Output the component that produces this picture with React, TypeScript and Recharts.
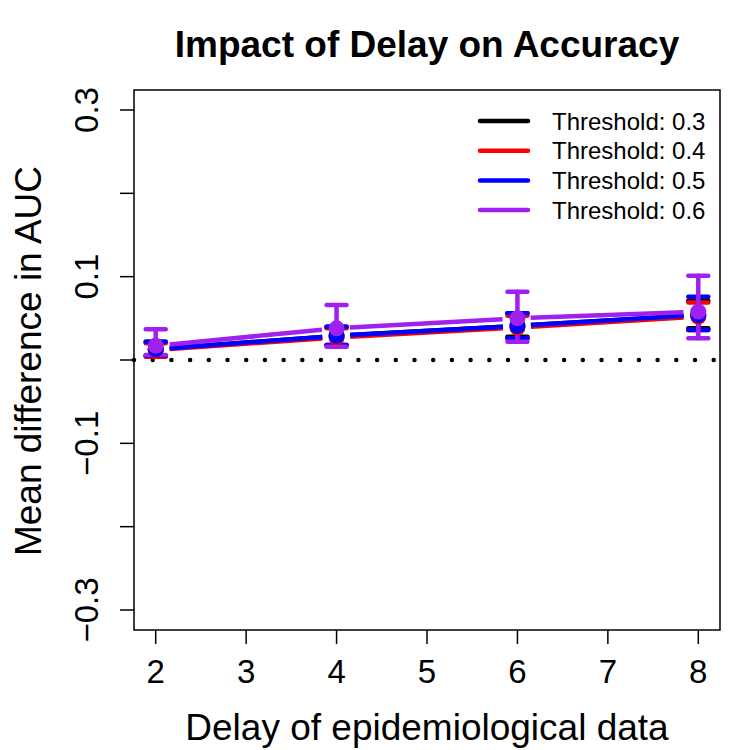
import React from "react";
import {
  ComposedChart,
  Line,
  ErrorBar,
  XAxis,
  YAxis,
  ReferenceLine,
  ReferenceArea,
} from "recharts";

const FONT = '"Liberation Sans", Arial, Helvetica, sans-serif';

// delay (days) of the epidemiological data
const delays = [2, 4, 6, 8];

// mean AUC difference per threshold, with lower / upper interval bounds
const thr03 = [0.013, 0.029, 0.041, 0.054];
const thr03Lo = [0.005, 0.018, 0.028, 0.038];
const thr03Hi = [0.022, 0.04, 0.056, 0.071];

const thr04 = [0.012, 0.027, 0.039, 0.052];
const thr04Lo = [0.004, 0.017, 0.026, 0.036];
const thr04Hi = [0.02, 0.038, 0.053, 0.069];

const thr05 = [0.013, 0.029, 0.041, 0.054];
const thr05Lo = [0.005, 0.018, 0.026, 0.036];
const thr05Hi = [0.022, 0.04, 0.056, 0.076];

const thr06 = [0.017, 0.038, 0.05, 0.058];
const thr06Lo = [0.006, 0.016, 0.022, 0.026];
const thr06Hi = [0.037, 0.066, 0.082, 0.101];

const xTicks = [2, 3, 4, 5, 6, 7, 8];
const yTicks = [-0.3, -0.2, -0.1, 0, 0.1, 0.2, 0.3];

const series = [
  { key: "t3", name: "Threshold: 0.3", color: "#000000", mean: thr03, lo: thr03Lo, hi: thr03Hi },
  { key: "t4", name: "Threshold: 0.4", color: "#ff0000", mean: thr04, lo: thr04Lo, hi: thr04Hi },
  { key: "t5", name: "Threshold: 0.5", color: "#0000ff", mean: thr05, lo: thr05Lo, hi: thr05Hi },
  { key: "t6", name: "Threshold: 0.6", color: "#a020f0", mean: thr06, lo: thr06Lo, hi: thr06Hi },
];

// ErrorBar wants [below, above] offsets from the mean
const rows = delays.map((d, i) => {
  const row: Record<string, any> = { delay: d };
  series.forEach((s) => {
    row[s.key] = s.mean[i];
    row[s.key + "Err"] = [s.mean[i] - s.lo[i], s.hi[i] - s.mean[i]];
  });
  return row;
});

const fmtY = (v: number) => {
  const t = Math.round(v * 10);
  if (t % 2 === 0) return "";
  return (v < 0 ? "\u2212" : "") + Math.abs(v).toFixed(1);
};

function XTick({ x, y, payload }: any) {
  return (
    <text x={x} y={y} dy={39} textAnchor="middle" fontFamily={FONT} fontSize={33} fill="#000">
      {payload.value}
    </text>
  );
}

function YTick({ x, y, payload }: any) {
  const label = fmtY(payload.value);
  if (!label) return null;
  const bx = x - 22;
  return (
    <text
      x={bx}
      y={y}
      transform={`rotate(-90 ${bx} ${y})`}
      textAnchor="middle"
      fontFamily={FONT}
      fontSize={33}
      fill="#000"
    >
      {label}
    </text>
  );
}

function makeDot(color: string) {
  return (props: any) => {
    const { cx, cy, index } = props;
    if (cx == null || cy == null) return <g key={index} />;
    return <circle key={index} cx={cx} cy={cy} r={8} fill={color} />;
  };
}

function LegendBox() {
  return (
    <svg width={260} height={130} style={{ position: "absolute", left: 470, top: 100 }}>
      {series.map((s, i) => {
        const y = 21 + i * 29.7;
        return (
          <g key={s.key}>
            <line x1={10} x2={58} y1={y} y2={y} stroke={s.color} strokeWidth={4.5} strokeLinecap="round" />
            <text x={82} y={y + 8.5} fontFamily={FONT} fontSize={24} fill="#000">
              {s.name}
            </text>
          </g>
        );
      })}
    </svg>
  );
}

export default function App() {
  return (
    <div style={{ position: "absolute", left: 0, top: 0, width: 750, height: 750, background: "#fff" }}>
      <div
        style={{
          position: "absolute",
          left: 134,
          width: 586,
          top: 24,
          textAlign: "center",
          fontFamily: FONT,
          fontWeight: "bold",
          fontSize: 37,
          lineHeight: "42px",
        }}
      >
        Impact of Delay on Accuracy
      </div>
      <svg width={750} height={750} style={{ position: "absolute", left: 0, top: 0, pointerEvents: "none" }}>
        <text x={427} y={740} textAnchor="middle" fontFamily={FONT} fontSize={37} fill="#000">
          Delay of epidemiological data
        </text>
        <text
          x={41}
          y={361}
          transform="rotate(-90 41 361)"
          textAnchor="middle"
          fontFamily={FONT}
          fontSize={37}
          fill="#000"
        >
          Mean difference in AUC
        </text>
      </svg>
      <ComposedChart
        width={750}
        height={750}
        data={rows}
        margin={{ top: 90, right: 30, bottom: 0, left: 0 }}
        style={{ position: "absolute", left: 0, top: 0 }}
      >
        <XAxis
          dataKey="delay"
          type="number"
          domain={[1.76, 8.24]}
          ticks={xTicks}
          allowDataOverflow
          height={120}
          axisLine={false}
          tickSize={14}
          tickMargin={0}
          tickLine={{ stroke: "#000", strokeWidth: 1.5 }}
          tick={<XTick />}
        />
        <YAxis
          type="number"
          domain={[-0.324, 0.324]}
          ticks={yTicks}
          allowDataOverflow
          width={134}
          axisLine={false}
          tickSize={14}
          tickMargin={0}
          tickLine={{ stroke: "#000", strokeWidth: 1.5 }}
          tick={<YTick />}
        />
        <ReferenceArea
          x1={1.76}
          x2={8.24}
          y1={-0.324}
          y2={0.324}
          fill="none"
          stroke="#000"
          strokeWidth={1.5}
          ifOverflow="visible"
        />
        <ReferenceLine
          y={0}
          stroke="#000"
          strokeWidth={4.5}
          strokeDasharray="0 18.7"
          strokeLinecap="round"
        />
        {series.map((s) => (
          <Line
            key={s.key}
            dataKey={s.key}
            name={s.name}
            type="linear"
            stroke={s.color}
            strokeWidth={4.5}
            strokeDasharray="0 14 153 14"
            dot={makeDot(s.color)}
            activeDot={false}
            isAnimationActive={false}
          >
            <ErrorBar
              dataKey={s.key + "Err"}
              direction="y"
              width={10}
              stroke={s.color}
              strokeWidth={4.5}
              strokeLinecap="round"
              isAnimationActive={false}
            />
          </Line>
        ))}
      </ComposedChart>
      <LegendBox />
    </div>
  );
}
